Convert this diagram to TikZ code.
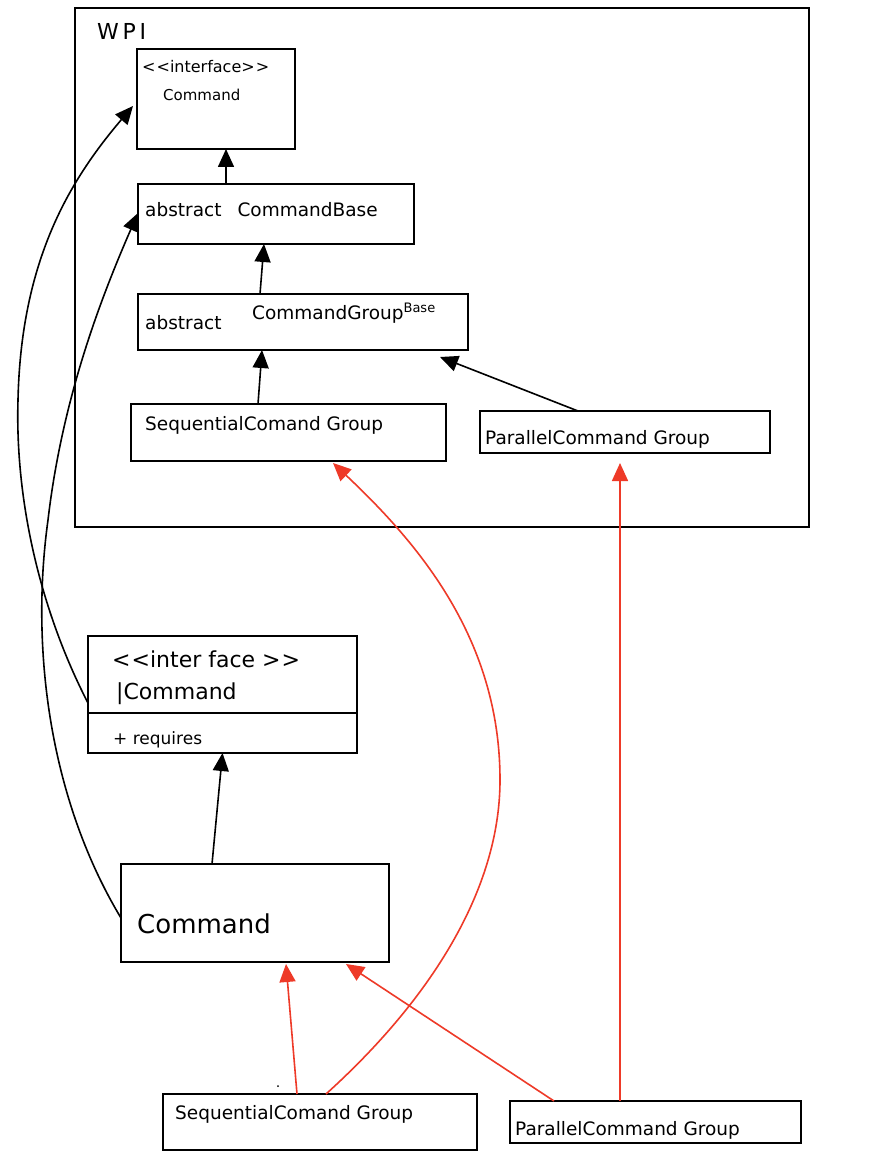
\documentclass[tikz,border=0pt]{standalone}
\usepackage{fontspec}
\setmainfont{DejaVu Sans}[Ligatures=NoCommon]
\usetikzlibrary{arrows.meta,calc}
\definecolor{redline}{RGB}{238,58,40}
\tikzset{
  box/.style={draw,line width=1.6pt,inner sep=0pt,outer sep=0pt,rectangle},
  lbl/.style={anchor=base west,inner sep=0pt,font=\fontsize{18.5}{20}\selectfont},
  arr/.style={line width=1.6pt,-{Triangle[length=18pt,width=16pt]}},
  rarr/.style={line width=1.6pt,draw=redline,-{Triangle[length=18pt,width=16pt,fill=redline]}}
}
\newcommand{\llt}{{<}\kern1pt{<}}
\newcommand{\ggt}{{>}\kern1pt{>}}
\begin{document}
\begin{tikzpicture}[x=1pt,y=-1pt]
\useasboundingbox (0,0) rectangle (876,1161);
\fill[white] (0,0) rectangle (876,1161);
% frame WPI
\node[box,minimum width=734pt,minimum height=519pt] (wpi) at (442,267.5) {};
\node[lbl,font=\fontsize{22}{24}\selectfont] (wpit) at (97,40) {W\,P\,I};
% boxes
\node[box,minimum width=158pt,minimum height=100pt] (ifc) at (216,99) {};
\node[lbl,font=\fontsize{16}{18}\selectfont] (ifct1) at (142,73) {\llt interface\ggt};
\node[lbl,font=\fontsize{15}{17}\selectfont] (ifct2) at (163,101) {Command};
\node[box,minimum width=276pt,minimum height=60pt] (cb) at (276,214) {};
\node[lbl] (cbt) at (145,216) {abstract\hspace{16pt}CommandBase};
\node[box,minimum width=330pt,minimum height=56pt] (cgb) at (303,322) {};
\node[lbl] (cgbt1) at (145,329) {abstract};
\node[lbl] (cgbt2) at (252,319) {CommandGroup\raisebox{7pt}{\fontsize{13}{14}\selectfont Base}};
\node[box,minimum width=315pt,minimum height=57pt] (seqT) at (288.5,432.5) {};
\node[lbl] (seqTt) at (145,430) {SequentialComand Group};
\node[box,minimum width=290pt,minimum height=42pt] (parT) at (625,432) {};
\node[lbl] (parTt) at (485,444) {ParallelCommand Group};
% lower interface
\node[box,minimum width=269pt,minimum height=117pt] (ifc2) at (222.5,694.5) {};
\draw[line width=1.6pt] (ifc2.west |- 0,713) coordinate (d1) -- (ifc2.east |- 0,713) coordinate (d2);
\node[lbl,font=\fontsize{22}{24}\selectfont] (ifc2t1) at (112,667) {\llt inter face \ggt};
\node[lbl,font=\fontsize{22}{24}\selectfont] (ifc2t2) at (116,699) {|Command};
\node[lbl,font=\fontsize{17}{19}\selectfont] (ifc2t3) at (113,744) {+ requires};
\node[box,minimum width=268pt,minimum height=98pt] (cmd) at (255,913) {};
\node[lbl,font=\fontsize{26}{28}\selectfont] (cmdt) at (137,933) {Command};
\node[box,minimum width=314pt,minimum height=56pt] (seqB) at (320,1122) {};
\node[lbl] (seqBt) at (175,1119) {SequentialComand Group};
\node[box,minimum width=291pt,minimum height=42pt] (parB) at (655.5,1122) {};
\node[lbl] (parBt) at (515,1135) {ParallelCommand Group};
\fill (278,1086) circle (1pt);
% black arrows
\draw[arr] ([xshift=-50pt]cb.north) -- ([xshift=10pt]ifc.south);
\draw[arr] ([xshift=-43pt]cgb.north) -- ([xshift=-12pt]cb.south);
\draw[arr] ([xshift=-30.5pt]seqT.north) -- ([xshift=-41pt]cgb.south);
\draw[arr] ([xshift=-47pt]parT.north) -- ([xshift=137pt,yshift=-7pt]cgb.south);
\draw[arr] ([xshift=-43pt]cmd.north) -- ([xshift=0pt]ifc2.south);
\draw[arr] ([yshift=-8.5pt]ifc2.west) .. controls (40,610) and (15,500) .. (18,400) .. controls (21,260) and (70,180) .. ([xshift=-4pt,yshift=-7pt]ifc.west);
\draw[arr] ([yshift=-5pt]cmd.west) .. controls (50,800) and (30,650) .. (48,520) .. controls (62,400) and (100,300) .. ([yshift=1pt]cb.west);
% red arrows
\draw[rarr] ([xshift=-23pt]seqB.north) -- ([xshift=31pt,yshift=-2pt]cmd.south);
\draw[rarr] ([xshift=6pt]seqB.north) .. controls (430,1000) and (500,890) .. (500,780) .. controls (500,640) and (420,545) .. ([xshift=44.5pt,yshift=-2pt]seqT.south);
\draw[rarr] ([xshift=-101.5pt]parB.north) -- ([xshift=91pt,yshift=-2pt]cmd.south);
\draw[rarr] ([xshift=-35.5pt]parB.north) -- ([xshift=-5pt,yshift=-10pt]parT.south);
\end{tikzpicture}
\end{document}
